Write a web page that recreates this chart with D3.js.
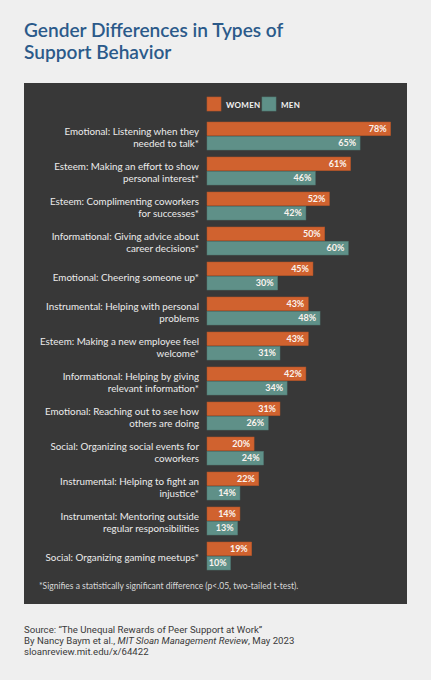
<!DOCTYPE html>
<html><head><meta charset="utf-8">
<script src="https://cdn.jsdelivr.net/npm/d3@7"></script>
<style>
html,body{margin:0;padding:0;background:#efefef;}
svg{display:block;}
</style></head>
<body>
<script>
const categories = [
  ["Emotional: Listening when they","needed to talk*"],
  ["Esteem: Making an effort to show","personal interest*"],
  ["Esteem: Complimenting coworkers","for successes*"],
  ["Informational: Giving advice about","career decisions*"],
  ["Emotional: Cheering someone up*"],
  ["Instrumental: Helping with personal","problems"],
  ["Esteem: Making a new employee feel","welcome*"],
  ["Informational: Helping by giving","relevant information*"],
  ["Emotional: Reaching out to see how","others are doing"],
  ["Social: Organizing social events for","coworkers"],
  ["Instrumental: Helping to fight an","injustice*"],
  ["Instrumental: Mentoring outside","regular responsibilities"],
  ["Social: Organizing gaming meetups*"]
];
const women = [78,61,52,50,45,43,43,42,31,20,22,14,19];
const men   = [65,46,42,60,30,48,31,34,26,24,14,13,10];
const seriesNames = ["WOMEN","MEN"];
const colors = ["#d0622f","#5f9088"];

const W = 431, H = 680;
const svg = d3.select("body").append("svg").attr("width",W).attr("height",H);

svg.append("rect").attr("width",W).attr("height",H).attr("fill","#efefef");

// Title
const title = svg.append("text").attr("x",24).attr("fill","#2b5a8a")
  .attr("font-family","Lato, sans-serif").attr("font-weight",600).attr("font-size",19.1);
title.append("tspan").attr("x",24).attr("y",37).text("Gender Differences in Types of");
title.append("tspan").attr("x",24).attr("y",59).text("Support Behavior");

// Panel
svg.append("rect").attr("x",24).attr("y",83).attr("width",383).attr("height",521).attr("fill","#383838");

const x = d3.scaleLinear().domain([0,100]).range([207, 207+235.5]);
const y = d3.scaleBand().domain(d3.range(categories.length)).range([122, 122+35*13]).paddingInner(0).paddingOuter(0);
const ySub = d3.scaleBand().domain([0,1]).range([0,28]).paddingInner(0.04);

const data = categories.map((c,i)=>({label:c, vals:[women[i],men[i]], i}));

// Legend
const leg = svg.append("g");
const legX = [207,262];
seriesNames.forEach((n,k)=>{
  leg.append("rect").attr("x",legX[k]).attr("y",97).attr("width",14).attr("height",14)
    .attr("fill",colors[k]).attr("stroke",d3.color(colors[k]).darker(0.4)).attr("stroke-width",0.6);
  leg.append("text").attr("x",legX[k]+19).attr("y",107.5).attr("fill","#f2f2f2")
    .attr("font-family","Lato, sans-serif").attr("font-weight",700).attr("font-size",8).attr("letter-spacing",0.3).text(n);
});

const g = svg.append("g").selectAll("g").data(data).join("g")
  .attr("transform",d=>`translate(0,${y(d.i)})`);

g.selectAll("rect").data(d=>d.vals.map((v,k)=>({v,k}))).join("rect")
  .attr("x",x(0)).attr("y",d=>ySub(d.k)).attr("height",ySub.bandwidth())
  .attr("width",d=>x(d.v)-x(0)).attr("fill",d=>colors[d.k])
  .attr("stroke",d=>d3.color(colors[d.k]).darker(0.5)).attr("stroke-width",0.5);

g.selectAll("text.val").data(d=>d.vals.map((v,k)=>({v,k}))).join("text").attr("class","val")
  .attr("x",d=>x(d.v)-4).attr("y",d=>ySub(d.k)+ySub.bandwidth()/2+3.2)
  .attr("text-anchor","end").attr("fill","#fbf3ee")
  .attr("font-family","Lato, sans-serif").attr("font-weight",700).attr("font-size",9)
  .text(d=>d.v+"%");

g.each(function(d){
  const t = d3.select(this).append("text").attr("text-anchor","end").attr("fill","#ececec")
    .attr("font-family","Lato, sans-serif").attr("font-size",9.8);
  const n = d.label.length;
  const center = 15;
  d.label.forEach((line,j)=>{
    t.append("tspan").attr("x",199).attr("y", center + 3.5 + (j-(n-1)/2)*12).text(line);
  });
});

// Footnote
svg.append("text").attr("x",39).attr("y",589).attr("fill","#d8d8d8")
  .attr("font-family","Lato, sans-serif").attr("font-size",8.5)
  .text("*Signifies a statistically significant difference (p<.05, two-tailed t-test).");

// Source
const src = svg.append("text").attr("fill","#3a3a3a").attr("font-family","Roboto, 'Liberation Sans', sans-serif").attr("font-size",9.6);
src.append("tspan").attr("x",24).attr("y",633).text("Source: \u201CThe Unequal Rewards of Peer Support at Work\u201D");
const l2 = src.append("tspan").attr("x",24).attr("y",644);
l2.append("tspan").text("By Nancy Baym et al., ");
l2.append("tspan").attr("font-style","italic").text("MIT Sloan Management Review");
l2.append("tspan").text(", May 2023");
src.append("tspan").attr("x",24).attr("y",655).text("sloanreview.mit.edu/x/64422");
</script>
</body></html>
